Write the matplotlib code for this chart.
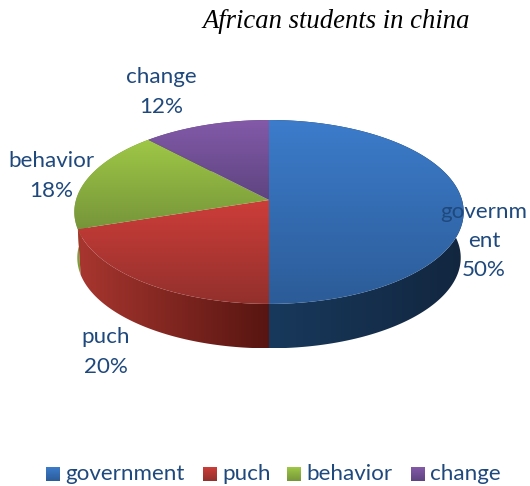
import numpy as np
import matplotlib
matplotlib.use("Agg")
import matplotlib.pyplot as plt
from matplotlib.colors import LinearSegmentedColormap
from matplotlib.patches import Polygon

labels = ["government", "puch", "behavior", "change"]
shares = [50, 20, 18, 12]
pie_labels = ["governm\nent\n50%", "puch\n20%", "behavior\n18%", "change\n12%"]

# gradient ends: top face (upper, lower) and side wall (left, right)
top_colors = [("#3c7ccb", "#2c5c98"), ("#cd3d39", "#92302c"), ("#9fc846", "#76953a"), ("#835aa9", "#5e4480")]
side_colors = [("#18395c", "#12263f"), ("#a8362f", "#571511"), ("#7f9f3c", "#6a8a34"), ("#5e4480", "#5e4480")]

label_color = "#1f497d"
label_font = "Lato"
cx, cy = 269, 200
rx, ry = 193, 90.4
tilt = 0.13
depth = 46
shrink = 0.985


def rim(theta, scale=1.0, drop=0):
    # theta runs clockwise from 12 o'clock, nearer edge is drawn larger
    u, v = np.sin(theta), -np.cos(theta)
    w = 1 - tilt * v
    return cx + scale * rx * u / w, cy + drop + scale * ry * v / w


def fill_gradient(ax, xy, colors, horizontal=False):
    poly = Polygon(xy, closed=True, facecolor="none", edgecolor="none")
    ax.add_patch(poly)
    xmin, ymin = xy.min(axis=0)
    xmax, ymax = xy.max(axis=0)
    cmap = LinearSegmentedColormap.from_list("grad", colors)
    ramp = np.linspace(0, 1, 256)
    ramp = ramp[None, :] if horizontal else ramp[:, None]
    im = ax.imshow(ramp, cmap=cmap, extent=(xmin, xmax, ymax, ymin), aspect="auto",
                   interpolation="bilinear", vmin=0, vmax=1, zorder=poly.get_zorder())
    im.set_clip_path(poly)


fig = plt.figure(figsize=(5.3, 4.86), dpi=100)
ax = fig.add_axes([0, 0, 1, 1])

edges = np.radians(np.cumsum([0] + shares) * 3.6)

# walls first, back to front
for i in [3, 2, 0, 1]:
    t = np.linspace(edges[i], edges[i + 1], 200)
    x1, y1 = rim(t)
    x2, y2 = rim(t, shrink, depth)
    xy = np.column_stack([np.r_[x1, x2[::-1]], np.r_[y1, y2[::-1]]])
    fill_gradient(ax, xy, side_colors[i], horizontal=True)

for i in range(len(shares)):
    t = np.linspace(edges[i], edges[i + 1], 200)
    x1, y1 = rim(t)
    xy = np.column_stack([np.r_[cx, x1], np.r_[cy, y1]])
    fill_gradient(ax, xy, top_colors[i])

ax.text(336, 22, "African students in china", family="Liberation Serif", style="italic",
        fontsize=19.2, color="black", ha="center", va="center")

label_pos = [(484, 241), (106, 352), (51, 176), (161, 92)]
for text, (x, y) in zip(pie_labels, label_pos):
    ax.text(x, y, text, family=label_font, fontsize=16.1, color=label_color,
            ha="center", va="center", linespacing=1.58)

# legend row
swatch_x = [46, 203, 287, 411]
for i, name in enumerate(labels):
    sx = swatch_x[i]
    square = np.array([[sx, 467], [sx + 14, 467], [sx + 14, 481], [sx, 481]])
    fill_gradient(ax, square, top_colors[i])
    ax.text(sx + 19, 474, name, family=label_font, fontsize=16.1, color=label_color,
            ha="left", va="center")

ax.set_xlim(0, 530)
ax.set_ylim(486, 0)
ax.axis("off")
fig.savefig("out.png", dpi=100)
